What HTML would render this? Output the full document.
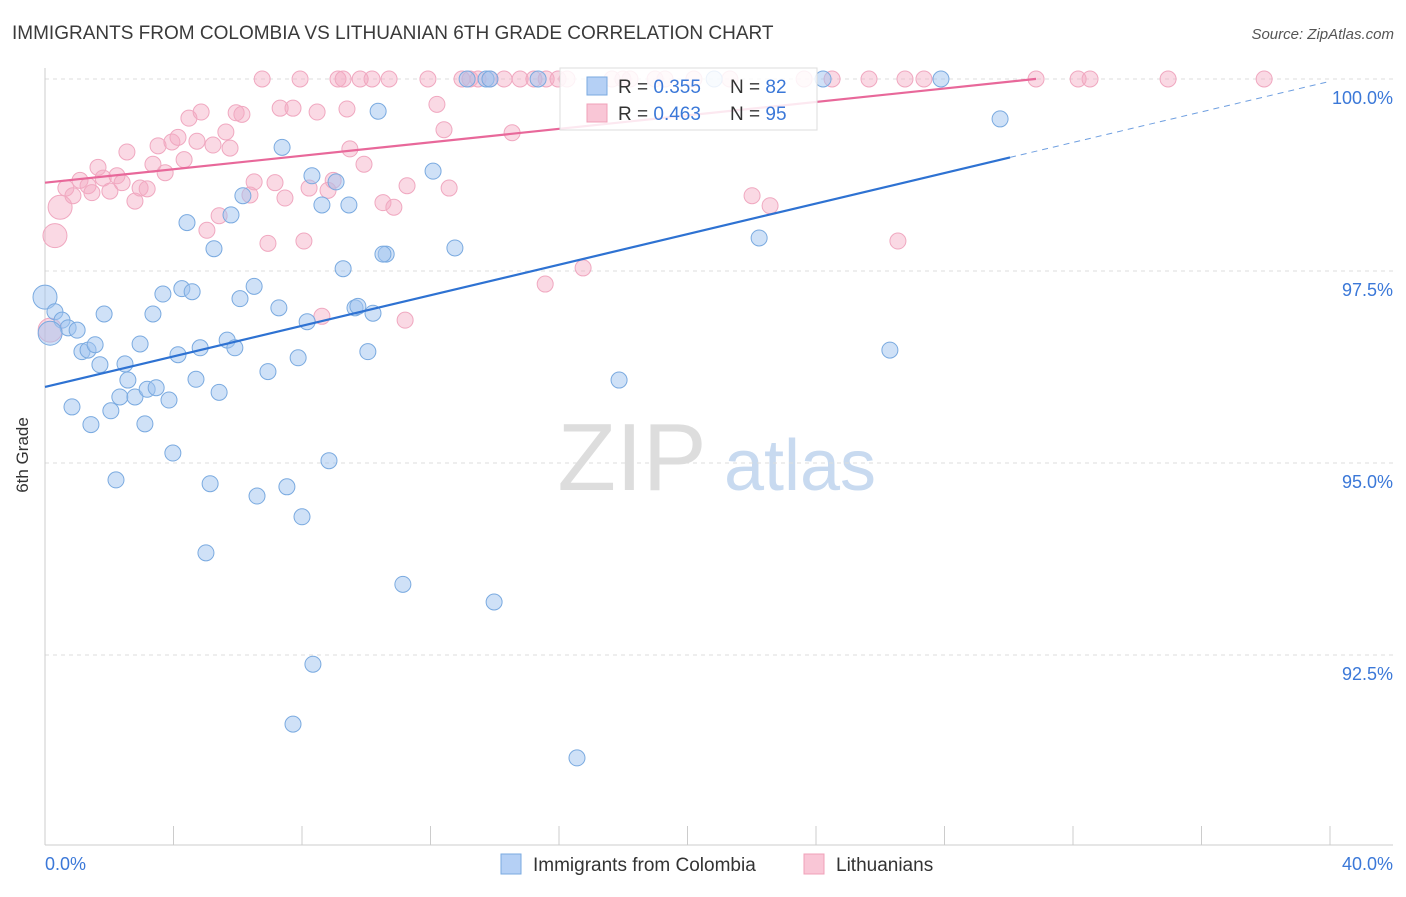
<!DOCTYPE html>
<html><head><meta charset="utf-8">
<style>
body{margin:0;background:#fff;font-family:"Liberation Sans",sans-serif;}
svg text{font-family:"Liberation Sans",sans-serif;}
</style></head>
<body>
<svg id="chart" width="1406" height="892" xmlns="http://www.w3.org/2000/svg">
<text x="12" y="39" font-size="19" fill="#3a3a3a">IMMIGRANTS FROM COLOMBIA VS LITHUANIAN 6TH GRADE CORRELATION CHART</text>
<text x="1394" y="39" font-size="15" fill="#555" text-anchor="end" font-style="italic">Source: ZipAtlas.com</text>
<text x="28" y="455" font-size="17" fill="#333" text-anchor="middle" transform="rotate(-90 28 455)">6th Grade</text>
<g>
<text x="632" y="490" font-size="96" fill="#ddd" text-anchor="middle" font-family="Liberation Serif">ZIP</text>
<text x="800" y="490" font-size="72" fill="#c8daf0" text-anchor="middle">atlas</text>
</g>
<g id="grid"></g>
<g id="axes"></g>
<g id="pts"></g>
<g id="trend"></g>
<g>
<rect x="560" y="68" width="257" height="62" fill="#fff" fill-opacity="0.85" stroke="#ddd"/>
<rect x="587" y="77" width="20" height="18" fill="#b5d0f5" stroke="#7aaae0"/>
<text x="618" y="93" font-size="19" fill="#333">R = <tspan fill="#3b78d8">0.355</tspan></text>
<text x="730" y="93" font-size="19" fill="#333">N = <tspan fill="#3b78d8">82</tspan></text>
<rect x="587" y="104" width="20" height="18" fill="#f9c6d6" stroke="#f0a0b8"/>
<text x="618" y="120" font-size="19" fill="#333">R = <tspan fill="#3b78d8">0.463</tspan></text>
<text x="730" y="120" font-size="19" fill="#333">N = <tspan fill="#3b78d8">95</tspan></text>
</g>
<g>
<rect x="501" y="854" width="20" height="20" fill="#b5d0f5" stroke="#7aaae0"/>
<text x="533" y="871" font-size="19" fill="#333">Immigrants from Colombia</text>
<rect x="804" y="854" width="20" height="20" fill="#f9c6d6" stroke="#f0a0b8"/>
<text x="836" y="871" font-size="19" fill="#333">Lithuanians</text>
</g>
</svg>
<script>
const blueX=[0.00,0.31,0.53,0.72,1.00,0.16,1.15,1.34,1.56,1.71,1.84,0.84,1.43,2.05,2.33,2.58,2.49,2.80,2.96,3.18,3.46,3.11,3.86,3.36,3.67,4.26,4.58,4.14,3.98,2.21,4.70,4.83,5.42,5.14,5.01,4.42,5.26,5.79,6.16,5.67,5.91,6.07,6.51,6.94,7.28,7.88,8.16,6.60,7.53,8.00,7.38,8.31,8.62,9.06,9.46,9.28,9.65,9.74,10.21,10.05,8.84,8.34,7.72,10.37,10.62,10.52,12.08,12.76,11.14,13.98,13.14,13.73,13.85,15.35,16.56,17.87,20.83,22.23,24.22,27.89,26.30,29.73];
const blueY=[97.16,96.97,96.86,96.76,96.73,96.69,96.45,96.47,96.54,96.28,96.94,95.73,95.50,95.68,95.86,96.08,96.29,95.86,96.55,95.96,95.98,95.51,95.82,96.94,97.20,97.27,97.23,96.41,95.13,94.78,96.09,96.50,95.92,94.73,93.83,98.13,97.79,98.23,98.48,96.60,96.50,97.14,97.30,96.19,97.02,96.37,96.84,94.57,94.69,94.30,99.11,98.74,98.36,98.66,98.36,97.53,97.02,97.04,96.95,96.45,95.03,92.38,91.60,99.58,97.72,97.72,98.80,97.80,93.42,93.19,100,100,100,100,91.16,96.08,100,97.93,100,100,96.47,99.48];
const pinkX=[0.31,0.47,0.65,0.87,1.09,1.34,1.46,1.65,1.81,2.02,2.24,2.40,2.55,2.80,2.96,3.18,3.36,3.52,3.74,3.95,4.14,4.33,4.48,4.73,4.86,5.04,5.23,5.42,5.63,5.76,5.95,6.13,6.38,6.51,6.76,6.94,7.16,7.32,7.47,7.72,7.94,8.06,8.22,8.47,8.62,8.81,8.97,9.12,9.28,9.40,9.49,9.81,9.93,10.18,10.52,10.71,10.86,11.21,11.27,11.92,12.20,12.42,12.58,12.98,13.23,13.48,13.85,14.29,14.54,14.79,15.22,15.60,15.97,16.25,16.75,15.57,17.65,17.99,18.21,18.99,19.30,20.20,21.32,22.01,22.57,23.63,24.50,25.65,26.77,27.36,26.55,30.85,32.16,32.53,34.96,37.95,0.16];
const pinkY=[97.96,98.33,98.58,98.48,98.68,98.61,98.52,98.85,98.71,98.54,98.74,98.65,99.05,98.41,98.58,98.57,98.89,99.13,98.78,99.18,99.24,98.95,99.49,99.19,99.57,98.03,99.14,98.22,99.31,99.10,99.56,99.54,98.49,98.66,100,97.86,98.65,99.62,98.45,99.62,100,97.89,98.58,99.57,96.91,98.55,98.68,100,100,99.61,99.09,100,98.89,100,98.39,100,98.33,96.86,98.61,100,99.67,99.34,98.58,100,100,100,100,100,99.30,100,100,100,100,100,97.54,97.33,100,100,100,100,100,100,100,98.48,98.35,100,100,100,100,100,97.89,100,100,100,100,100,96.73];
const bigBlue=[0,5];
const bigPink=[0,1,96];
const yTicks=[92.5,95.0,97.5,100.0];
const yTickLabels=["92.5%","95.0%","97.5%","100.0%"];
const xTicks=[0,4,8,12,16,20,24,28,32,36,40];
const xEndLabels=["0.0%","40.0%"];
const blueTrend=[95.99,0.0995];
const pinkTrend=[98.65,0.0438];
const blueSolidEnd=30.04, pinkEnd=30.85;

const X0=45,X1=1330,YT=79,PXPER=192/2.5;
const sx=v=>X0+(v/40)*(X1-X0);
const sy=v=>YT+(100-v)*PXPER;
const NS="http://www.w3.org/2000/svg";
function mk(tag,attrs,parent){const e=document.createElementNS(NS,tag);for(const k in attrs)e.setAttribute(k,attrs[k]);parent.appendChild(e);return e;}
const grid=document.getElementById('grid'),axes=document.getElementById('axes'),pts=document.getElementById('pts'),tr=document.getElementById('trend');
yTicks.forEach((t,i)=>{
 const l=mk('line',{x1:X0,x2:1393,y1:sy(t),y2:sy(t),stroke:'#ddd','stroke-dasharray':'4,4'},grid);
 
 
 const tx=mk('text',{x:1393,y:sy(t)+25,'font-size':18,fill:'#3b78d8','text-anchor':'end'},axes);
 tx.textContent=yTickLabels[i];
 
 
});
const ax=mk('line',{x1:X0,x2:X0,y1:68,y2:845,stroke:'#ccc'},axes);


const bx=mk('line',{x1:X0,x2:1393,y1:845,y2:845,stroke:'#ccc'},axes);


xTicks.forEach(t=>{
 const l=mk('line',{x1:sx(t),x2:sx(t),y1:826,y2:845,stroke:'#ccc'},axes);
 
 
});
const xl0=mk('text',{x:45,y:870,'font-size':18,fill:'#3b78d8'},axes);xl0.textContent=xEndLabels[0];


const xl1=mk('text',{x:1393,y:870,'font-size':18,fill:'#3b78d8','text-anchor':'end'},axes);xl1.textContent=xEndLabels[1];


function series(xs,ys,big,fill,stroke,name){
 xs.forEach((x,i)=>{
  const c=mk('circle',{cx:sx(x),cy:sy(ys[i]),r:big.includes(i)?12:8,fill:fill,stroke:stroke,'stroke-width':1},pts);
  
  
 });
}
series(pinkX,pinkY,bigPink,'rgba(245,170,195,0.45)','#f0a8c0','point-lithuanians');
series(blueX,blueY,bigBlue,'rgba(160,196,240,0.5)','#7aaae0','point-colombia');
const b1=mk('line',{x1:sx(0),y1:sy(blueTrend[0]),x2:sx(blueSolidEnd),y2:sy(blueTrend[0]+blueTrend[1]*blueSolidEnd),stroke:'#2e72d2','stroke-width':2.2},tr);


const b2=mk('line',{x1:sx(blueSolidEnd),y1:sy(blueTrend[0]+blueTrend[1]*blueSolidEnd),x2:sx(40),y2:sy(blueTrend[0]+blueTrend[1]*40),stroke:'#6f9fe0','stroke-width':1,'stroke-dasharray':'6,5'},tr);


const p1=mk('line',{x1:sx(0),y1:sy(pinkTrend[0]),x2:sx(pinkEnd),y2:sy(pinkTrend[0]+pinkTrend[1]*pinkEnd),stroke:'#e8689a','stroke-width':2.2},tr);


</script>
</body></html>
